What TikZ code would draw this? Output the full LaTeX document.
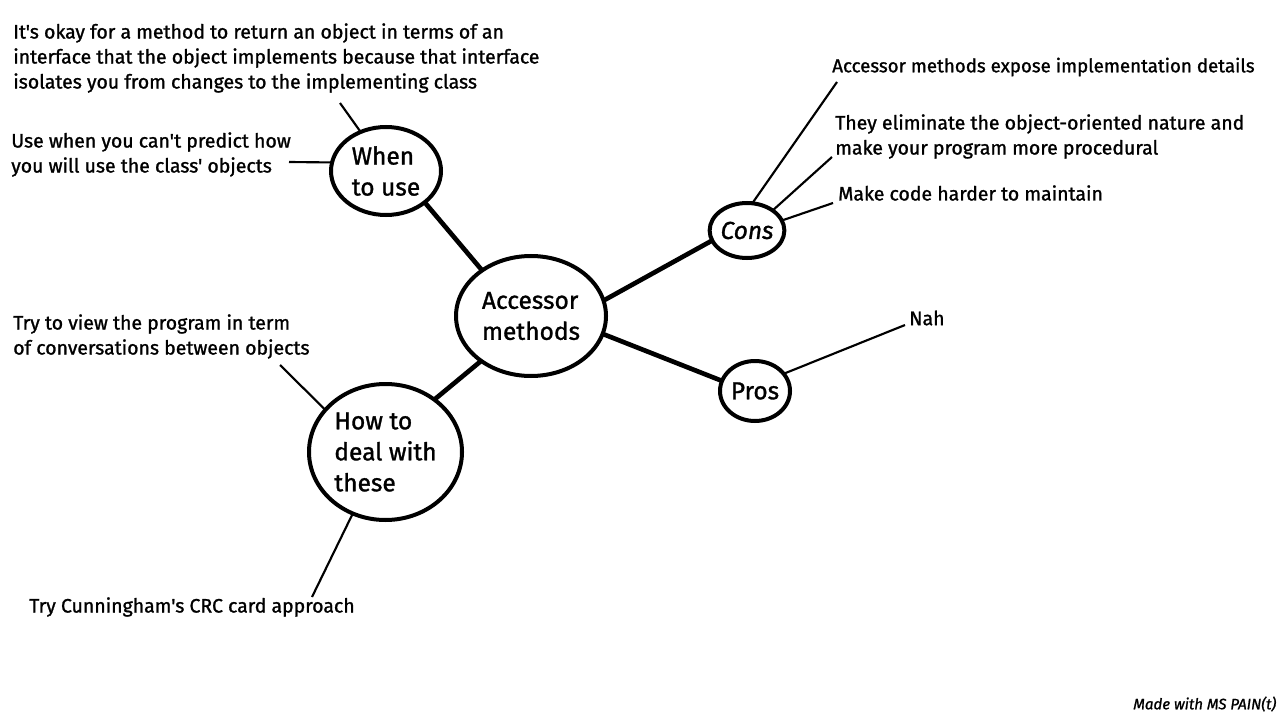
\documentclass[tikz,border=0pt]{standalone}
\usepackage{fontspec}
\setmainfont{Fira Sans}[Ligatures=TeXOff, FakeBold=1.2]
\usetikzlibrary{shapes.geometric}
\begin{document}
\begin{tikzpicture}[x=0.75pt,y=-0.75pt,
  bub/.style={ellipse, draw, line width=3pt, inner sep=0pt, outer sep=0pt, align=left,
    font=\fontsize{18.4}{23.25}\selectfont},
  conn/.style={line width=3.5pt},
  leg/.style={line width=1.6pt},
  lbl/.style={anchor=west, align=left, inner sep=0pt,
    font=\fontsize{14.6}{18.75}\selectfont}]
\useasboundingbox[fill=white] (0,0) rectangle (1280,720);

% bubbles
\node[bub, minimum width=112.5pt, minimum height=90pt] (acc) at (531,316) {Accessor\\methods};
\node[bub, minimum width=82.5pt, minimum height=66pt] (when) at (386,171) {When\\to use};
\node[bub, minimum width=114.75pt, minimum height=102pt] (how) at (385.5,452) {How to\\deal with\\these};
\node[bub, minimum width=48pt, minimum height=41.25pt] (cons) at (747,230.5) {\itshape Cons};
\node[bub, minimum width=52.5pt, minimum height=45pt] (pros) at (755,391) {Pros};

% labels
\node[lbl] (l1) at (13,58) {It's okay for a method to return an object in terms of an\\interface that the object implements because that interface\\isolates you from changes to the implementing class};
\node[lbl] (l2) at (11,154.5) {Use when you can't predict how\\you will use the class' objects};
\node[lbl] (l3) at (13,336.5) {Try to view the program in term\\of conversations between objects};
\node[lbl] (l4) at (29,607) {Try Cunningham's CRC card approach};
\node[lbl, font=\fontsize{14.05}{18.75}\selectfont] (l5) at (832,67) {Accessor methods expose implementation details};
\node[lbl] (l6) at (835,136.5) {They eliminate the object-oriented nature and\\make your program more procedural};
\node[lbl] (l7) at (838,193) {Make code harder to maintain};
\node[lbl] (l8) at (909,318) {Nah};
\node[lbl, font=\fontsize{11.3}{13}\selectfont\itshape] (l9) at (1133,704) {Made with MS PAIN(t)};

% free ends
\coordinate (e1) at (340,103);
\coordinate (e2) at (289,162);
\coordinate (e3) at (280,365);
\coordinate (e4) at (312,597);
\coordinate (e5) at (837,82);
\coordinate (e6) at (832,157);
\coordinate (e7) at (833,203);
\coordinate (e8) at (905,325);

% main connectors
\draw[conn] (when.-39) -- (acc.137);
\draw[conn] (acc.12) -- (cons.-164);
\draw[conn] (acc.-14) -- (pros.163);
\draw[conn] (acc.-138) -- (how.47);

% leaf connectors
\draw[leg] (when.123) -- (e1);
\draw[leg] (when.171) -- (e2);
\draw[leg] (how.145) -- (e3);
\draw[leg] (how.-118) -- (e4);
\draw[leg] (cons.79) -- (e5);
\draw[leg] (cons.38) -- (e6);
\draw[leg] (cons.16) -- (e7);
\draw[leg] (pros.31) -- (e8);
\end{tikzpicture}
\end{document}
